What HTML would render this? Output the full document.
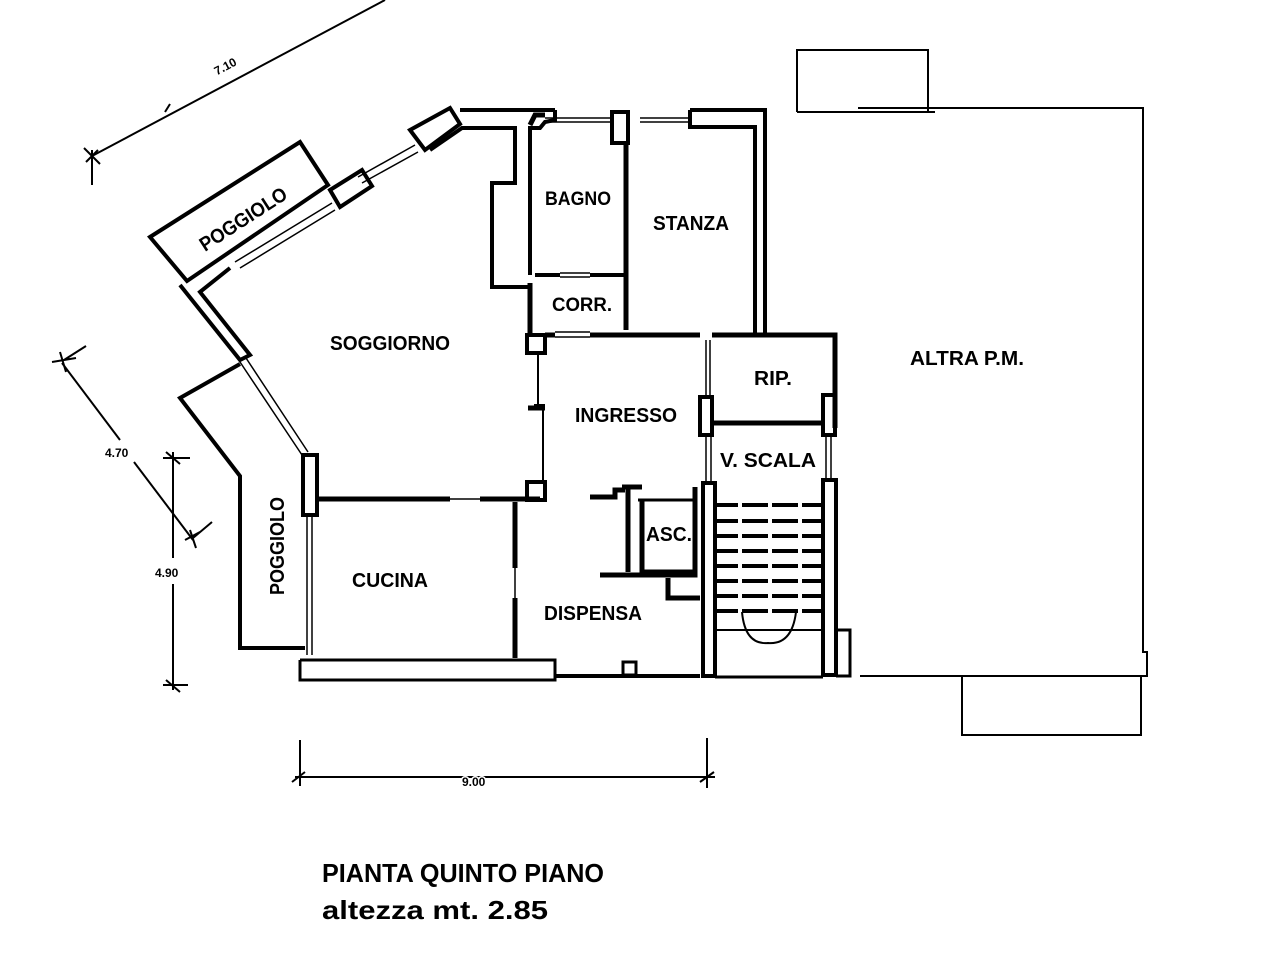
<!DOCTYPE html>
<html><head><meta charset="utf-8"><style>
html,body{margin:0;padding:0;background:#fff;}
svg{display:block;}
text{font-family:"Liberation Sans Narrow","Liberation Sans",sans-serif;font-weight:bold;fill:#000;}
</style></head><body>
<svg width="1280" height="960" viewBox="0 0 1280 960" xmlns="http://www.w3.org/2000/svg">
<g fill="none" stroke="#000" stroke-linejoin="miter">
<line x1="92" y1="156" x2="385" y2="0" stroke-width="2"/>
<path d="M84 148 L100 164 M86 162 L98 150 M92 150 L92 185" stroke-width="2"/>
<line x1="165" y1="112" x2="170" y2="104" stroke-width="2"/>
<path d="M150 237 L300 142 L328 185 L187 281 Z" stroke-width="4"/>
<path d="M235 262 L332 203 M240 268 L335 210" stroke-width="1.5"/>
<path d="M358 177 L415 145 M362 183 L418 152" stroke-width="1.5"/>
<path d="M330 190 L362 170 L372 186 L340 207 Z" stroke-width="4"/>
<path d="M410 130 L450 108 L460 124 L425 150 Z" stroke-width="4"/>
<path d="M460 110 L555 110" stroke-width="4"/>
<path d="M430 150 L462 128 L515 128 L515 183 L492 183 L492 287 L530 287" stroke-width="4"/>
<path d="M555 110 L555 120 L545 122 L540 128 L530 128 L530 275" stroke-width="4"/>
<path d="M180 285 L240 360 L250 355 L200 292 L230 268" stroke-width="4"/>
<path d="M240 362 L302 455 M246 358 L308 452" stroke-width="1.5"/>
<path d="M240 364 L180 398 L240 476 L240 648 L305 648" stroke-width="4"/>
<rect x="303" y="455" width="14" height="60" stroke-width="4"/>
<path d="M307 515 L307 655 M312 515 L312 655" stroke-width="1.5"/>
<line x1="62" y1="363" x2="120" y2="440" stroke-width="2"/>
<line x1="134" y1="462" x2="193" y2="540" stroke-width="2"/>
<path d="M52 362 L76 358 M60 352 L66 372 M64 360 L86 346 M185 540 L200 532 M190 530 L196 548 M193 538 L212 522" stroke-width="2"/>
<line x1="173" y1="452" x2="173" y2="558" stroke-width="2"/>
<line x1="173" y1="584" x2="173" y2="690" stroke-width="2"/>
<path d="M163 458 L190 458 M166 452 L180 464 M163 685 L188 685 M166 680 L180 692" stroke-width="2"/>
<path d="M318 499 L450 499 M480 499 L540 499 M590 497 L615 497 L615 490 L625 490" stroke-width="5"/>
<path d="M450 499 L480 499" stroke-width="1.5"/>
<path d="M515 502 L515 568 M515 598 L515 658" stroke-width="5"/>
<path d="M515 568 L515 598" stroke-width="1.5"/>
<path d="M300 660 L300 680 L555 680 L555 660 L300 660" stroke-width="3"/>
<path d="M555 676 L700 676" stroke-width="4"/>
<rect x="623" y="662" width="13" height="13" stroke-width="3"/>
<rect x="527" y="335" width="18" height="18" stroke-width="4"/>
<rect x="527" y="482" width="18" height="18" stroke-width="4"/>
<path d="M538 353 L538 405 M534 405 L545 405 M543 405 L543 482" stroke-width="2"/>
<path d="M528 408 L545 408" stroke-width="5"/>
<path d="M545 335 L555 335 M590 335 L700 335 M712 335 L835 335 L835 428" stroke-width="5"/>
<path d="M555 332 L590 332 M555 337 L590 337" stroke-width="1.5"/>
<path d="M530 125 L535 115 L545 115 M530 283 L530 335" stroke-width="5"/>
<path d="M535 275 L560 275 M590 275 L625 275" stroke-width="4"/>
<path d="M560 273 L590 273 M560 277 L590 277" stroke-width="1.5"/>
<path d="M545 118 L610 118 M545 122 L610 122 M640 118 L690 118 M640 122 L690 122" stroke-width="1.5"/>
<path d="M612 112 L628 112 L628 143 L612 143 Z" stroke-width="4"/>
<path d="M626 143 L626 330" stroke-width="5"/>
<path d="M690 110 L765 110 L765 335 M690 110 L690 127 L755 127 L755 335" stroke-width="4"/>
<rect x="700" y="397" width="12" height="38" stroke-width="4"/>
<rect x="823" y="395" width="12" height="40" stroke-width="4"/>
<path d="M712 423 L823 423" stroke-width="5"/>
<path d="M706 340 L706 397 M710 340 L710 397 M706 435 L706 485 M711 435 L711 485 M826 435 L826 480 M831 435 L831 480" stroke-width="1.5"/>
<rect x="703" y="483" width="12" height="193" stroke-width="4"/>
<rect x="823" y="480" width="13" height="195" stroke-width="4"/>
<path d="M715 677 L823 677 M836 630 L850 630 L850 676 L836 676" stroke-width="3"/>
<path d="M860 676 L1147 676 L1147 652 L1143 652 L1143 108 L858 108" stroke-width="2"/>
<path d="M797 112 L797 50 L928 50 L928 112 M797 112 L935 112" stroke-width="2"/>
<path d="M962 676 L962 735 L1141 735 L1141 676" stroke-width="2"/>
<g stroke-width="4">
<path d="M715 505 L823 505 M715 521 L823 521 M715 536 L823 536 M715 551 L823 551 M715 566 L823 566 M715 581 L823 581 M715 596 L823 596 M715 611 L823 611"/>
</g>
<g stroke="#fff" stroke-width="4"><path d="M740 500 L740 615 M770 500 L770 615 M800 500 L800 615"/></g>
<path d="M742 612 Q745 645 768 643 Q792 645 796 612" stroke-width="2"/>
<path d="M715 630 L823 630" stroke-width="2"/>
<path d="M628 487 L628 572 M622 487 L642 487 M642 500 L642 572 L695 572 M600 575 L695 575 L695 487 M668 578 L668 598 L700 598" stroke-width="5"/>
<path d="M638 500 L695 500" stroke-width="3"/>
<line x1="295" y1="777" x2="715" y2="777" stroke-width="2"/>
<path d="M300 740 L300 786 M707 738 L707 788 M292 782 L305 772 M700 782 L714 772" stroke-width="2"/>
</g>
<text x="215" y="76" font-size="12" font-weight="normal" transform="rotate(-28 215 72)">7.10</text>
<text x="0" y="0" font-size="20" textLength="100" lengthAdjust="spacingAndGlyphs" transform="translate(205 252) rotate(-33)">POGGIOLO</text>
<text x="0" y="0" font-size="20" textLength="98" lengthAdjust="spacingAndGlyphs" transform="translate(284 595) rotate(-90)">POGGIOLO</text>
<text x="330" y="350" font-size="20" textLength="120" lengthAdjust="spacingAndGlyphs">SOGGIORNO</text>
<text x="545" y="205" font-size="19" textLength="66" lengthAdjust="spacingAndGlyphs">BAGNO</text>
<text x="653" y="230" font-size="20" textLength="76" lengthAdjust="spacingAndGlyphs">STANZA</text>
<text x="552" y="311" font-size="19" textLength="60" lengthAdjust="spacingAndGlyphs">CORR.</text>
<text x="575" y="422" font-size="20" textLength="102" lengthAdjust="spacingAndGlyphs">INGRESSO</text>
<text x="754" y="385" font-size="20" textLength="38" lengthAdjust="spacingAndGlyphs">RIP.</text>
<text x="720" y="467" font-size="20" textLength="96" lengthAdjust="spacingAndGlyphs">V. SCALA</text>
<text x="646" y="541" font-size="20" textLength="46" lengthAdjust="spacingAndGlyphs">ASC.</text>
<text x="352" y="587" font-size="20" textLength="76" lengthAdjust="spacingAndGlyphs">CUCINA</text>
<text x="544" y="620" font-size="20" textLength="98" lengthAdjust="spacingAndGlyphs">DISPENSA</text>
<text x="910" y="365" font-size="20" textLength="114" lengthAdjust="spacingAndGlyphs">ALTRA P.M.</text>
<text x="105" y="457" font-size="12" font-weight="normal">4.70</text>
<text x="155" y="577" font-size="12" font-weight="normal">4.90</text>
<text x="462" y="786" font-size="12" font-weight="normal" style="paint-order:stroke" stroke="#fff" stroke-width="3">9.00</text>
<text x="322" y="882" font-size="26" textLength="282" lengthAdjust="spacingAndGlyphs">PIANTA QUINTO PIANO</text>
<text x="322" y="919" font-size="26" textLength="226" lengthAdjust="spacingAndGlyphs">altezza mt. 2.85</text>
</svg>
</body></html>
